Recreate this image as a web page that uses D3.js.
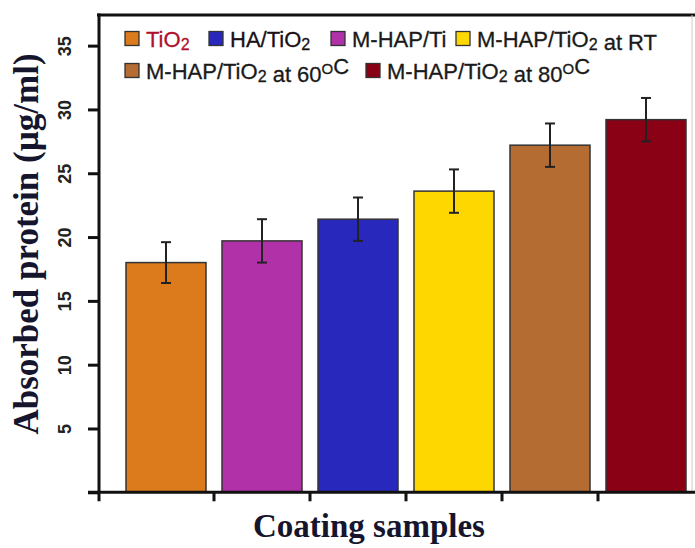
<!DOCTYPE html>
<html><head><meta charset="utf-8">
<script src="https://cdn.jsdelivr.net/npm/d3@7"></script>
<style>html,body{margin:0;padding:0;background:#fff;}svg{display:block;}</style>
</head><body>
<svg id="chart" width="695" height="548"></svg>
<script>
// ---- data ----
const categories = ["TiO2", "M-HAP/Ti", "HA/TiO2", "M-HAP/TiO2 at RT", "M-HAP/TiO2 at 60°C", "M-HAP/TiO2 at 80°C"];
const values = [18.0, 19.7, 21.4, 23.6, 27.2, 29.2];
const errors = [1.6, 1.7, 1.7, 1.7, 1.7, 1.7];
const barColors = ["#DB7B1B", "#B131A9", "#2828BC", "#FFD700", "#B56C33", "#8A0014"];
const yTicks = [5, 10, 15, 20, 25, 30, 35];
const legendLabels = ["TiO_2", "HA/TiO_2", "M-HAP/Ti", "M-HAP/TiO_2 at RT", "M-HAP/TiO_2 at 60^OC", "M-HAP/TiO_2 at 80^OC"];
const legendColors = ["#DB7B1B", "#2828BC", "#B131A9", "#FFD700", "#B56C33", "#8A0014"];
const legendTextColors = ["#B0102C", "#1a1016", "#1a1a1a", "#1a1a1a", "#1a1a1a", "#1a1a1a"];
const yTitle = "Absorbed protein (µg/ml)";
const xTitle = "Coating samples";

// ---- layout ----
const svg = d3.select("#chart");
const plot = {left: 99, top: 15, right: 694, bottom: 492.3};
const y = d3.scaleLinear().domain([0, 37.4]).range([plot.bottom, plot.top]);
const x = d3.scaleBand().domain(categories).range([118, 694]).paddingInner(1/6).paddingOuter(1/12);

// frame: top line and faint right edge
svg.append("line").attr("x1", plot.left - 2).attr("x2", 695).attr("y1", plot.top).attr("y2", plot.top)
  .attr("stroke", "#111").attr("stroke-width", 3);
svg.append("line").attr("x1", 692).attr("x2", 692).attr("y1", plot.top).attr("y2", plot.bottom)
  .attr("stroke", "#ccc").attr("stroke-width", 1);

// bars
svg.append("g").selectAll("rect").data(categories).join("rect")
  .attr("x", d => x(d))
  .attr("y", (d, i) => y(values[i]))
  .attr("width", x.bandwidth())
  .attr("height", (d, i) => y(0) - y(values[i]))
  .attr("fill", (d, i) => barColors[i])
  .attr("stroke", "#333").attr("stroke-width", 1.5);

// error bars
const eg = svg.append("g").attr("stroke", "#222").attr("stroke-width", 2);
categories.forEach((c, i) => {
  const cx = x(c) + x.bandwidth() / 2;
  const y1 = y(values[i] + errors[i]), y2 = y(values[i] - errors[i]);
  eg.append("line").attr("x1", cx).attr("x2", cx).attr("y1", y1).attr("y2", y2);
  eg.append("line").attr("x1", cx - 5).attr("x2", cx + 5).attr("y1", y1).attr("y2", y1);
  eg.append("line").attr("x1", cx - 5).attr("x2", cx + 5).attr("y1", y2).attr("y2", y2);
});

// y axis
const yAxis = d3.axisLeft(y).tickValues([0].concat(yTicks)).tickSize(11).tickFormat(d => d === 0 ? "" : d);
const ga = svg.append("g").attr("transform", `translate(${plot.left},0)`).call(yAxis);
ga.select(".domain").remove();
ga.selectAll(".tick line").attr("stroke", "#111").attr("stroke-width", 3);
ga.selectAll(".tick text")
  .attr("x", null).attr("dy", null)
  .attr("text-anchor", "middle")
  .attr("dominant-baseline", "central")
  .attr("transform", "translate(-34,0) rotate(-90)")
  .attr("font-family", "Arial, 'Liberation Sans', sans-serif")
  .attr("font-weight", "bold").attr("font-size", 18).attr("fill", "#222");
svg.append("line").attr("x1", plot.left).attr("x2", plot.left).attr("y1", plot.top - 1.5).attr("y2", plot.bottom + 9)
  .attr("stroke", "#111").attr("stroke-width", 3);

// x axis
const xTickPos = categories.slice(1).map(c => x(c) - x.step() * x.paddingInner() / 2);
svg.append("line").attr("x1", plot.left - 11).attr("x2", 695).attr("y1", plot.bottom).attr("y2", plot.bottom)
  .attr("stroke", "#111").attr("stroke-width", 3);
svg.append("g").selectAll("line").data(xTickPos).join("line")
  .attr("x1", d => d).attr("x2", d => d).attr("y1", plot.bottom).attr("y2", plot.bottom + 9)
  .attr("stroke", "#111").attr("stroke-width", 3);

// titles
svg.append("text").attr("transform", "translate(26,244) rotate(-90)")
  .attr("text-anchor", "middle").attr("dominant-baseline", "central")
  .attr("font-family", "'Times New Roman', 'Liberation Serif', serif").attr("font-weight", "bold")
  .attr("font-size", 35).attr("fill", "#15152e").text(yTitle);
svg.append("text").attr("x", 369).attr("y", 537)
  .attr("text-anchor", "middle")
  .attr("font-family", "'Times New Roman', 'Liberation Serif', serif").attr("font-weight", "bold")
  .attr("font-size", 33).attr("fill", "#15152e").text(xTitle);

// legend
const legendPos = [[125, 38.5], [209, 38.5], [331, 38.5], [456, 38.5], [125, 70.5], [366, 70.5]];
const lg = svg.append("g");
legendLabels.forEach((lab, i) => {
  const [lx, ly] = legendPos[i];
  lg.append("rect").attr("x", lx).attr("y", ly - 7).attr("width", 14).attr("height", 14)
    .attr("fill", legendColors[i]).attr("stroke", "#333").attr("stroke-width", 1.3);
  const t = lg.append("text").attr("x", lx + 21).attr("y", ly + 8)
    .attr("font-family", "Arial, 'Liberation Sans', sans-serif").attr("font-size", 22)
    .attr("fill", legendTextColors[i]).attr("stroke", legendTextColors[i]).attr("stroke-width", 0.3);
  // parse _x subscripts and ^x superscripts
  let buf = "", k = 0;
  const flush = () => { if (buf) { t.append("tspan").text(buf); buf = ""; } };
  while (k < lab.length) {
    const ch = lab[k];
    if (ch === "_" || ch === "^") {
      flush();
      const sub = ch === "_";
      t.append("tspan").attr("font-size", sub ? 16 : 15).attr("dy", sub ? 3 : -8).text(lab[k + 1]);
      t.append("tspan").attr("dy", sub ? -3 : 8).text("");
      k += 2;
    } else { buf += ch; k++; }
  }
  flush();
});
</script>
</body></html>
